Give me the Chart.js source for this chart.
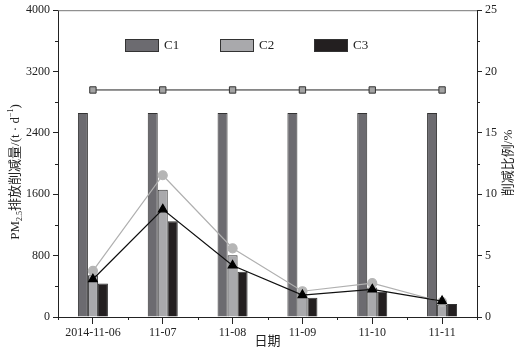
<!DOCTYPE html>
<html><head><meta charset="utf-8">
<script src="https://cdn.jsdelivr.net/npm/chart.js@4.4.1/dist/chart.umd.min.js"></script>
<style>html,body{margin:0;padding:0;background:#fff;}#wrap{width:531px;height:353px;}</style>
</head><body><div id="wrap"><canvas id="c" width="531" height="353"></canvas></div>
<script>
const categories = ['2014-11-06','11-07','11-08','11-09','11-10','11-11'];
const c1Values = [2660,2660,2660,2660,2660,2660];
const c2Values = [545,1660,805,300,385,156];
const c3Values = [437,1250,590,250,330,170];
const c1Ratio = [18.5,18.5,18.5,18.5,18.5,18.5];
const c2Ratio = [3.76,11.55,5.6,2.1,2.76,1.22];
const c3Ratio = [3.08,8.77,4.2,1.79,2.25,1.3];
const legendLabels = ['C1','C2','C3'];
const leftTicks = [0,800,1600,2400,3200,4000];
const rightTicks = [0,5,10,15,20,25];

const SERIF = '"Liberation Serif", "Noto Sans CJK SC", serif';
const barColors = ['#6c6b70','#a9a9ac','#231f20'];

const extras = {
  id:'extras',
  afterDraw(chart){
    const ctx = chart.ctx, a = chart.chartArea;
    const y = chart.scales.y, y1 = chart.scales.y1, x = chart.scales.x;
    ctx.save();
    // top frame
    ctx.strokeStyle = '#777'; ctx.lineWidth = 1;
    ctx.beginPath(); ctx.moveTo(a.left, a.top+0.5); ctx.lineTo(a.right, a.top+0.5); ctx.stroke();
    // minor ticks
    ctx.strokeStyle = '#222';
    ctx.beginPath();
    for (let v=400; v<4000; v+=800){ const py=Math.round(y.getPixelForValue(v))+0.5; ctx.moveTo(a.left, py); ctx.lineTo(a.left-3, py); }
    for (let v=2.5; v<25; v+=5){ const py=Math.round(y1.getPixelForValue(v))+0.5; ctx.moveTo(a.right, py); ctx.lineTo(a.right+3, py); }
    for (let i=0;i<=categories.length;i++){ const px=Math.round(x.getPixelForValue(i-0.5))+0.5; ctx.moveTo(px, a.bottom); ctx.lineTo(px, a.bottom+3); }
    ctx.stroke();
    // legend
    const lx = [125,220,314];
    ctx.font = '13px ' + SERIF; ctx.textBaseline = 'middle'; ctx.textAlign='left';
    legendLabels.forEach((t,i)=>{
      ctx.fillStyle = barColors[i]; ctx.fillRect(lx[i], 39, 34, 13);
      ctx.strokeStyle = '#333'; ctx.strokeRect(lx[i]+0.5, 39.5, 33, 12);
      ctx.fillStyle = '#222'; ctx.fillText(t, lx[i]+39, 46);
    });
    // x title
    ctx.textAlign = 'center'; ctx.fillStyle='#222';
    ctx.font = '13px ' + SERIF;
    ctx.fillText('日期', (a.left+a.right)/2, 342);
    // right title
    ctx.save(); ctx.translate(509, 163); ctx.rotate(-Math.PI/2);
    ctx.fillText('削减比例/%', 0, 0); ctx.restore();
    // left title with sub/superscript
    ctx.save(); ctx.translate(16, 172); ctx.rotate(-Math.PI/2);
    const parts = [
      {t:'PM', f:'13px', dy:0},
      {t:'2.5', f:'8px', dy:4},
      {t:'排放削减量/(t · d', f:'13px', dy:0},
      {t:'−1', f:'8px', dy:-5},
      {t:')', f:'13px', dy:0}
    ];
    let total = 0;
    parts.forEach(p=>{ ctx.font = p.f+' '+SERIF; p.w = ctx.measureText(p.t).width; total += p.w; });
    let cx = -total/2; ctx.textAlign='left';
    parts.forEach(p=>{ ctx.font = p.f+' '+SERIF; ctx.fillText(p.t, cx, p.dy); cx += p.w; });
    ctx.restore();
    ctx.restore();
  }
};

const barDs = (label, data, i) => ({
  type:'bar', label, data, backgroundColor: barColors[i], borderColor:'#333', borderWidth:1,
  barPercentage:1, categoryPercentage:0.43, yAxisID:'y', order:2
});

new Chart(document.getElementById('c'), {
  data: {
    labels: categories,
    datasets: [
      {type:'line', label:'C3 ratio', data:c3Ratio, yAxisID:'y1', borderColor:'#111', borderWidth:1.2,
        pointStyle:'triangle', pointRadius:5, pointBackgroundColor:'#000', pointBorderColor:'#000', order:0},
      {type:'line', label:'C1 ratio', data:c1Ratio, yAxisID:'y1', borderColor:'#222', borderWidth:1,
        pointStyle:'rect', pointRadius:4.5, pointBackgroundColor:'#a3a3a3', pointBorderColor:'#333', pointBorderWidth:1, order:0},
      {type:'line', label:'C2 ratio', data:c2Ratio, yAxisID:'y1', borderColor:'#b0b0b0', borderWidth:1.2,
        pointStyle:'circle', pointRadius:4.5, pointBackgroundColor:'#b5b5b5', pointBorderColor:'#b5b5b5', order:1},
      barDs('C1', c1Values, 0),
      barDs('C2', c2Values, 1),
      barDs('C3', c3Values, 2)
    ]
  },
  options: {
    responsive:false, animation:false, devicePixelRatio:1,
    layout:{padding:{top:9,left:0,right:0,bottom:0}},
    plugins:{legend:{display:false}, tooltip:{enabled:false}},
    scales:{
      x:{
        offset:true,
        grid:{display:true, offset:false, drawOnChartArea:false, tickLength:7, tickColor:'#222'},
        border:{display:true, color:'#222', width:1},
        ticks:{color:'#222', font:{family:SERIF, size:12}, padding:2, maxRotation:0, autoSkip:false},
        afterFit(s){ s.height = 36; }
      },
      y:{
        position:'left', min:0, max:4000,
        afterBuildTicks(s){ s.ticks = leftTicks.map(v=>({value:v})); },
        grid:{drawOnChartArea:false, tickLength:5, tickColor:'#222'},
        border:{display:true, color:'#222', width:1},
        ticks:{color:'#222', font:{family:SERIF, size:12}, padding:3, callback:(v)=>String(v)},
        afterFit(s){ s.width = 58; }
      },
      y1:{
        position:'right', min:0, max:25,
        afterBuildTicks(s){ s.ticks = rightTicks.map(v=>({value:v})); },
        grid:{drawOnChartArea:false, tickLength:5, tickColor:'#222'},
        border:{display:true, color:'#222', width:1},
        ticks:{color:'#222', font:{family:SERIF, size:12}, padding:3, callback:(v)=>String(v)},
        afterFit(s){ s.width = 54; }
      }
    }
  },
  plugins:[extras]
});
</script></body></html>
